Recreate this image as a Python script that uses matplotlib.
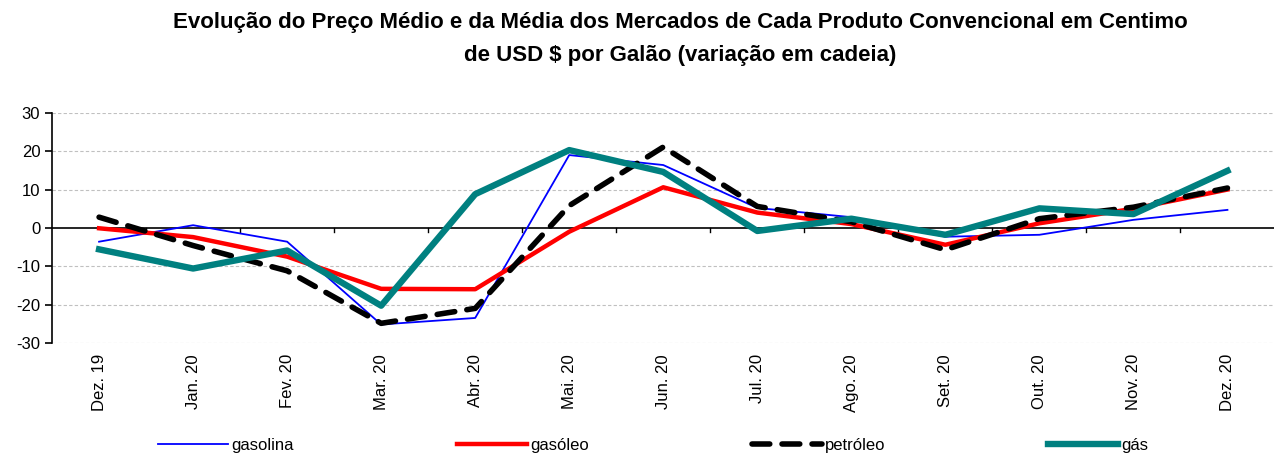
import matplotlib
matplotlib.use("Agg")
import matplotlib.pyplot as plt
import numpy as np

months = ["Dez. 19", "Jan. 20", "Fev. 20", "Mar. 20", "Abr. 20", "Mai. 20", "Jun. 20",
          "Jul. 20", "Ago. 20", "Set. 20", "Out. 20", "Nov. 20", "Dez. 20"]
gasolina = [-3.6, 0.7, -3.6, -25.2, -23.5, 19.0, 16.4, 5.2, 2.8, -2.3, -1.8, 2.1, 4.7]
gasoleo = [-0.1, -2.4, -7.5, -15.9, -16.0, -1.0, 10.6, 4.0, 1.0, -4.4, 1.2, 5.0, 10.0]
petroleo = [2.8, -4.6, -11.2, -24.9, -21.0, 5.8, 21.1, 5.6, 1.6, -5.7, 2.4, 5.4, 10.4]
gas = [-5.6, -10.6, -5.9, -20.3, 8.8, 20.3, 14.6, -0.8, 2.4, -1.8, 5.1, 3.6, 14.9]

plt.rcParams['font.family'] = ['Liberation Sans', 'DejaVu Sans']
plt.rcParams['axes.unicode_minus'] = False

fig = plt.figure(figsize=(12.76, 4.59), dpi=100)
ax = fig.add_axes([0.0408, 0.253, 0.958, 0.501])

x = np.arange(len(months))
ax.plot(x, gasolina, color='#0000ff', lw=1.3, label='gasolina')
ax.plot(x, gasoleo, color='#ff0000', lw=3.2, label='gasóleo')
ax.plot(x, petroleo, color='black', lw=4, dashes=(3.2, 2.2), dash_capstyle='round',
        label='petróleo')
ax.plot(x, gas, color='#008080', lw=4.6, label='gás')

ax.set_xlim(-0.5, len(months) - 0.5)
ax.set_ylim(-30, 30)
ax.set_yticks(range(-30, 31, 10))
for v in range(-30, 31, 10):
    if v != 0:
        ax.axhline(v, color='#c0c0c0', lw=0.8, ls=(0, (3, 2)), zorder=0)
ax.axhline(0, color='black', lw=1.2, zorder=1)

# category boundary ticks on the zero line
for b in np.arange(0.5, len(months) - 0.5, 1.0):
    ax.plot([b, b], [0, -1.2], color='black', lw=1, zorder=1)

for s in ['top', 'right', 'bottom']:
    ax.spines[s].set_visible(False)
ax.spines['left'].set_linewidth(1.2)
ax.set_xticks(x)
ax.set_xticklabels(months, rotation=90, fontsize=12)
ax.tick_params(axis='x', length=0, pad=8)
ax.tick_params(axis='y', labelsize=12, length=5, width=1.2)

fig.text(0.533, 0.915,
         "Evolução do Preço Médio e da Média dos Mercados de Cada Produto Convencional em Centimo\n"
         "de USD \\$ por Galão (variação em cadeia)",
         ha='center', va='center', fontsize=16, fontweight='bold', linespacing=1.7,
         family=['Liberation Sans Narrow', 'Liberation Sans', 'DejaVu Sans'])

fig.legend(loc='center', bbox_to_anchor=(0.112, 0.0, 0.8, 0.06), mode='expand', ncol=4,
           frameon=False, fontsize=12, handlelength=4.2, handletextpad=0.2)

fig.savefig('out.png', dpi=100)
